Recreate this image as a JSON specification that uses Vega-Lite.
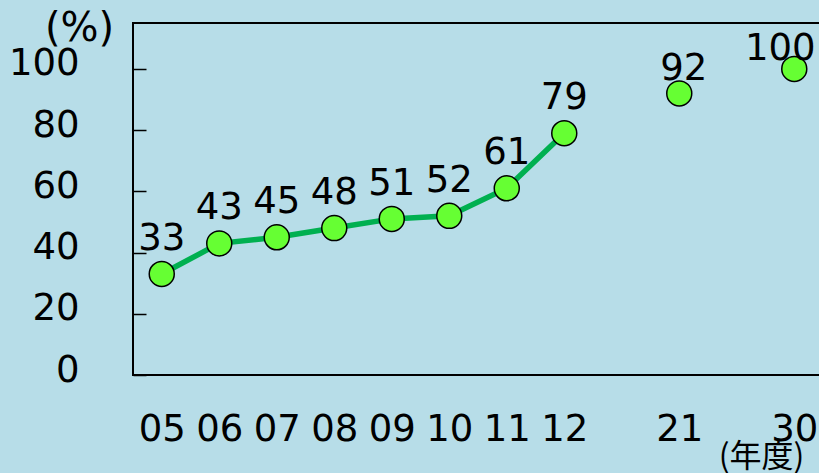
{
  "$schema": "https://vega.github.io/schema/vega-lite/v6.json",
  "width": 688,
  "height": 352,
  "autosize": "none",
  "padding": {"left": 133, "top": 23, "right": 0, "bottom": 98},
  "background": "#b7dde8",
  "config": {
    "view": {"stroke": "#000000", "strokeWidth": 2, "fill": null},
    "font": "DejaVu Sans",
    "text": {"font": "DejaVu Sans", "fontSize": 37, "color": "#000000"}
  },
  "data": {
    "values": [
      {"year": "05", "pos": 0, "value": 33, "group": "actual"},
      {"year": "06", "pos": 1, "value": 43, "group": "actual"},
      {"year": "07", "pos": 2, "value": 45, "group": "actual"},
      {"year": "08", "pos": 3, "value": 48, "group": "actual"},
      {"year": "09", "pos": 4, "value": 51, "group": "actual"},
      {"year": "10", "pos": 5, "value": 52, "group": "actual"},
      {"year": "11", "pos": 6, "value": 61, "group": "actual"},
      {"year": "12", "pos": 7, "value": 79, "group": "actual"},
      {"year": "21", "pos": 9, "value": 92, "group": "target"},
      {"year": "30", "pos": 11, "value": 100, "group": "target"}
    ]
  },
  "encoding": {
    "x": {
      "field": "pos",
      "type": "quantitative",
      "scale": {"domain": [-0.5, 11.465], "nice": false, "zero": false},
      "axis": {
        "values": [0, 1, 2, 3, 4, 5, 6, 7, 9, 11],
        "labelExpr": "datum.value < 5 ? '0' + (datum.value + 5) : datum.value < 8 ? '' + (datum.value + 5) : datum.value == 9 ? '21' : '30'",
        "ticks": false,
        "domain": false,
        "grid": false,
        "labelFont": "DejaVu Sans",
        "labelFontSize": 37,
        "labelColor": "#000000",
        "labelBaseline": "alphabetic",
        "labelPadding": 65.5,
        "labelFlush": false,
        "labelOverlap": false,
        "title": "(年度)",
        "titleFont": "Noto Sans CJK JP",
        "titleFontSize": 32,
        "titleFontWeight": "normal",
        "titleColor": "#000000",
        "titleX": 628,
        "titleY": 81,
        "titleAlign": "center",
        "titleBaseline": "middle"
      }
    },
    "y": {
      "field": "value",
      "type": "quantitative",
      "scale": {"domain": [0, 115], "nice": false},
      "axis": {
        "values": [0, 20, 40, 60, 80, 100],
        "tickSize": -13,
        "tickWidth": 1.5,
        "tickColor": "#000000",
        "domain": false,
        "grid": false,
        "labelFont": "DejaVu Sans",
        "labelFontSize": 37,
        "labelColor": "#000000",
        "labelPadding": 67,
        "labelOffset": -5,
        "labelBaseline": "middle",
        "labelFlush": false,
        "title": "(%)",
        "titleFont": "DejaVu Sans",
        "titleFontSize": 40,
        "titleFontWeight": "normal",
        "titleColor": "#000000",
        "titleAngle": 0,
        "titleX": -54,
        "titleY": 5,
        "titleAlign": "center",
        "titleBaseline": "middle"
      }
    }
  },
  "layer": [
    {
      "transform": [{"filter": "datum.group == 'actual'"}],
      "mark": {"type": "line", "color": "#00b050", "strokeWidth": 5.5}
    },
    {
      "mark": {"type": "point", "shape": "circle", "filled": true, "fill": "#66ff33", "stroke": "#000000", "strokeWidth": 1.5, "size": 625, "opacity": 1}
    },
    {
      "transform": [{"filter": "datum.group == 'actual'"}],
      "mark": {"type": "text", "dy": -24, "baseline": "alphabetic"},
      "encoding": {"text": {"field": "value", "type": "quantitative"}}
    },
    {
      "transform": [{"filter": "datum.year == '21'"}],
      "mark": {"type": "text", "dy": -13, "dx": 4.5, "baseline": "alphabetic"},
      "encoding": {"text": {"field": "value", "type": "quantitative"}}
    },
    {
      "transform": [{"filter": "datum.year == '30'"}],
      "mark": {"type": "text", "dy": -9, "dx": -14, "baseline": "alphabetic"},
      "encoding": {"text": {"field": "value", "type": "quantitative"}}
    }
  ]
}
